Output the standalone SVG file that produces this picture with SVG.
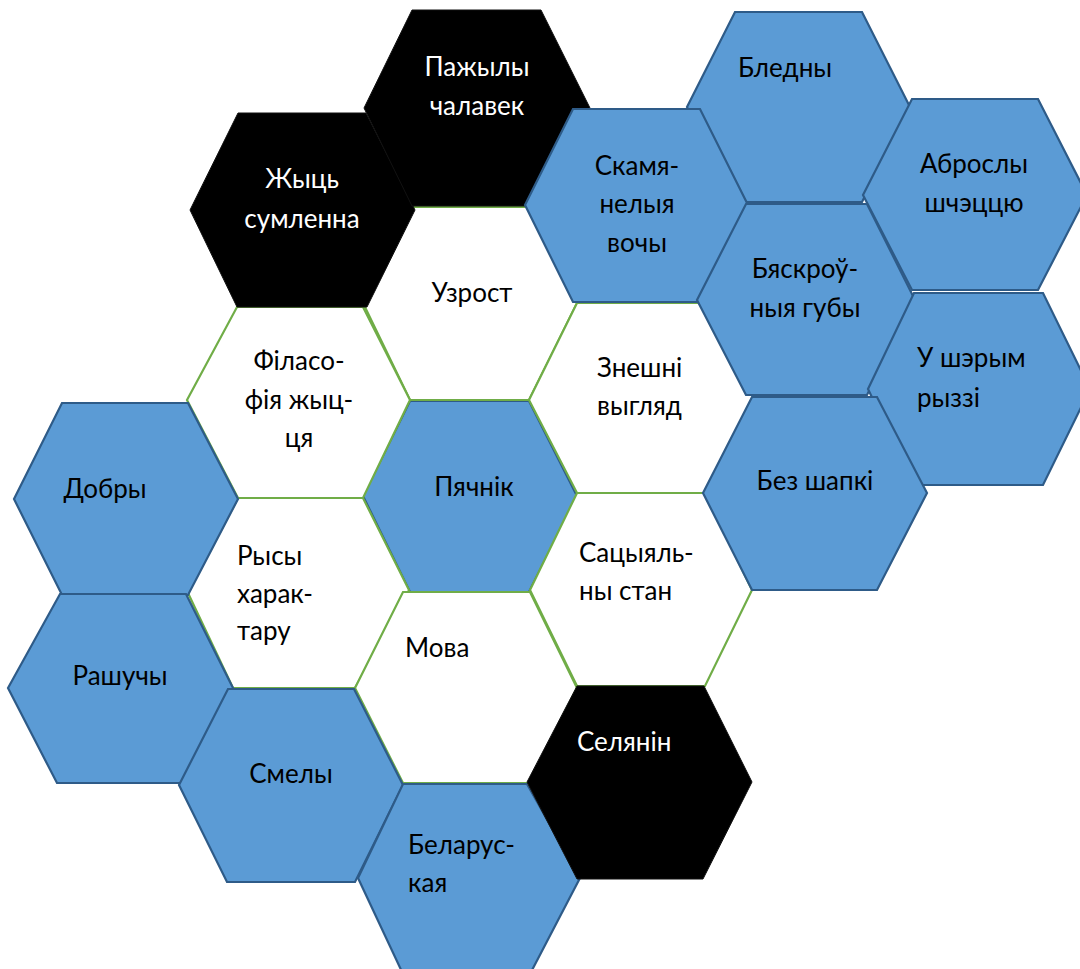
<svg xmlns="http://www.w3.org/2000/svg" width="1080" height="969" viewBox="0 0 1080 969">
<style>
.w{fill:#FFFFFF;stroke:#70AD47;stroke-width:2.2}
.b{fill:#5B9BD5;stroke:#2E5B88;stroke-width:2.2}
.k{fill:#000000;stroke:#111111;stroke-width:1}
.c{fill:#5B9BD5;stroke:#2E5B88;stroke-width:2.2}
text{font-family:Lato,"Noto Sans","Open Sans",sans-serif;font-size:26px;fill:#000000}
.m{text-anchor:middle}
.wt{fill:#FFFFFF}
</style>
<rect width="1080" height="969" fill="#FFFFFF"/>
<g id="pachnik">
<polygon class="c" points="363,496 410,401 529,401 577,496 529,592 410,592"/>
</g>
<g id="uzrost">
<polygon class="w" points="363,303 408,207 530,207 577,303 529,400 410,400"/>
<text class="m" x="472" y="302">Узрост</text>
</g>
<g id="filasofia">
<polygon class="w" points="187,400 237,307 363,307 410,400 363,498 238,498"/>
<text class="m" x="299" y="370">Філасо-</text>
<text class="m" x="299" y="409">фія жыц-</text>
<text class="m" x="299" y="447">ця</text>
</g>
<g id="rysy">
<polygon class="w" points="188,593 238,498 363,498 409,590 355,688 233,688"/>
<text x="237" y="565">Рысы</text>
<text x="237" y="603">харак-</text>
<text x="237" y="640">тару</text>
</g>
<g id="zneshni">
<polygon class="w" points="529,400 577,303 720,303 790,400 720,493 577,493"/>
<text x="597" y="377">Знешні</text>
<text x="597" y="415">выгляд</text>
</g>
<g id="sacyjalny">
<polygon class="w" points="530,590 577,493 705,493 752,590 705,686 577,686"/>
<text x="579" y="562">Сацыяль-</text>
<text x="579" y="600">ны стан</text>
</g>
<g id="mova">
<polygon class="w" points="355,688 403,592 530,592 577,688 529,783 403,783"/>
<text x="405" y="657">Мова</text>
</g>
<g id="pachnik-label">
<text class="m" x="474" y="496">Пячнік</text>
</g>
<g id="zhyc">
<polygon class="k" points="190,210 238,113 366,113 415,210 367,307 237,307"/>
<text class="m wt" x="302" y="188">Жыць</text>
<text class="m wt" x="302" y="228">сумленна</text>
</g>
<g id="pazhyly">
<polygon class="k" points="364,108 412,10 541,10 590,108 541,206 412,206"/>
<text class="m wt" x="477" y="76">Пажылы</text>
<text class="m wt" x="477" y="115">чалавек</text>
</g>
<g id="bledny">
<polygon class="b" points="687,107 735,12 862,12 910,107 862,202 735,202"/>
<text class="m" x="785" y="77">Бледны</text>
</g>
<g id="skamianelyja">
<polygon class="b" points="525,205 573,109 700,109 748,205 700,302 573,302"/>
<text class="m" x="637" y="175">Скамя-</text>
<text class="m" x="637" y="213">нелыя</text>
<text class="m" x="637" y="252">вочы</text>
</g>
<g id="abrosly">
<polygon class="b" points="863,195 912,99 1038,99 1087,195 1038,290 912,290"/>
<text class="m" x="974" y="173">Аброслы</text>
<text class="m" x="974" y="212">шчэццю</text>
</g>
<g id="biaskrouny">
<polygon class="b" points="697,300 746,204 867,204 915,300 867,395 746,395"/>
<text class="m" x="805" y="278">Бяскроў-</text>
<text class="m" x="805" y="317">ныя губы</text>
</g>
<g id="u-shaerym">
<polygon class="b" points="868,389 914,293 1043,293 1090,389 1043,485 914,485"/>
<text x="917" y="367">У шэрым</text>
<text x="917" y="407">рыззі</text>
</g>
<g id="bez-shapki">
<polygon class="b" points="703,493 752,397 877,397 927,493 877,590 752,590"/>
<text class="m" x="815" y="490">Без шапкі</text>
</g>
<g id="dobry">
<polygon class="b" points="14,499 62,403 188,403 238,499 188,595 62,595"/>
<text class="m" x="105" y="498">Добры</text>
</g>
<g id="rashuchy">
<polygon class="b" points="8,688 60,594 186,594 233,688 182,783 57,783"/>
<text class="m" x="120" y="685">Рашучы</text>
</g>
<g id="smely">
<polygon class="b" points="179,785 228,689 354,689 403,785 355,882 227,882"/>
<text class="m" x="291" y="783">Смелы</text>
</g>
<g id="belaruskaja">
<polygon class="b" points="358,878 403,784 527,784 580,878 530,974 403,974"/>
<text x="408" y="854">Беларус-</text>
<text x="408" y="892">кая</text>
</g>
<g id="selianin">
<polygon class="k" points="527,782 577,686 704,686 752,782 703,879 577,879"/>
<text class="wt" x="577" y="751">Селянін</text>
</g>
</svg>
